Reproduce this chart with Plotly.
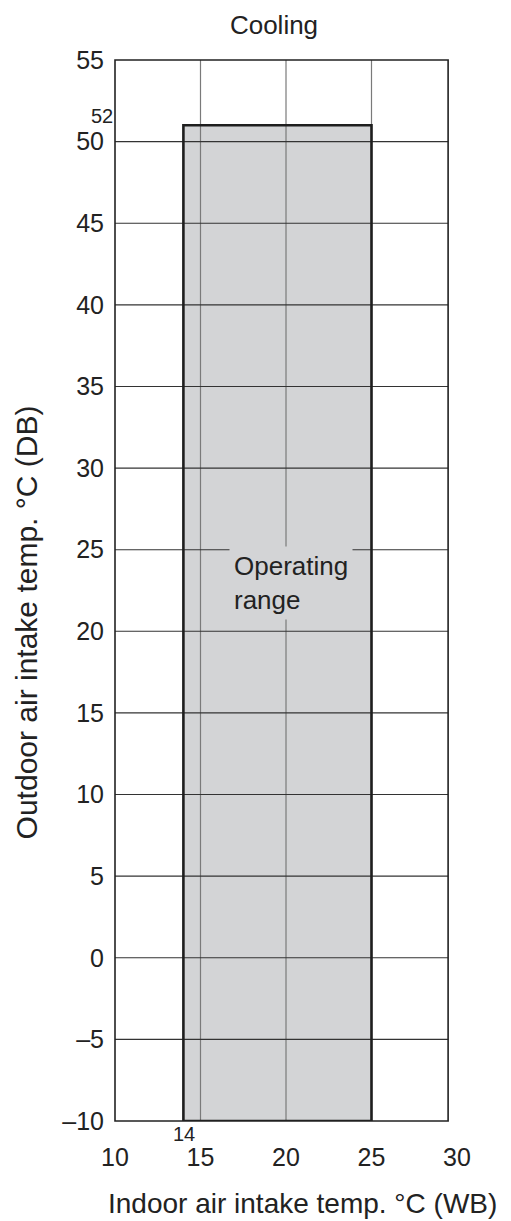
import plotly.graph_objects as go

# ---- data ----
x_ticks = [10, 15, 20, 25, 30]
y_ticks = [-10, -5, 0, 5, 10, 15, 20, 25, 30, 35, 40, 45, 50, 55]
range_x = [14, 25]          # indoor WB limits of operating range
range_y = [-10, 51]         # outdoor DB limits (as drawn)
top_label = "52"
left_label = "14"
title_text = "Cooling"
x_title = "Indoor air intake temp. °C (WB)"
y_title = "Outdoor air intake temp. °C (DB)"
region_label = "Operating<br>range"

# ---- layout constants (page has an 8px body offset) ----
W, H = 503, 1213
ML, MT, PW, PH = 107, 52, 342, 1061
MR = W - ML - PW
MB = H - MT - PH
FRAME_R = 0.974            # right edge of drawn frame (paper fraction)
FONT = "Liberation Sans, Arial, sans-serif"
FS = 26

xmin, xmax = x_ticks[0], x_ticks[-1]
ymin, ymax = y_ticks[0], y_ticks[-1]
frame_xr = xmin + FRAME_R * (xmax - xmin)

fig = go.Figure()

# operating range fill
fig.add_trace(go.Scatter(
    x=[range_x[0], range_x[1], range_x[1], range_x[0], range_x[0]],
    y=[range_y[0], range_y[0], range_y[1], range_y[1], range_y[0]],
    mode="lines", fill="toself", fillcolor="#d3d4d6",
    line=dict(width=0), hoverinfo="skip", showlegend=False))

# vertical grid lines
for xv in x_ticks[1:-1]:
    fig.add_trace(go.Scatter(x=[xv, xv], y=[ymin, ymax], mode="lines",
                             line=dict(color="#7a7a7a", width=1.2),
                             hoverinfo="skip", showlegend=False))
# horizontal grid lines
for yv in y_ticks[1:-1]:
    fig.add_trace(go.Scatter(x=[xmin, frame_xr], y=[yv, yv], mode="lines",
                             line=dict(color="#333333", width=1.1),
                             hoverinfo="skip", showlegend=False))

# operating range border
fig.add_trace(go.Scatter(
    x=[range_x[0], range_x[1], range_x[1], range_x[0], range_x[0]],
    y=[range_y[0], range_y[0], range_y[1], range_y[1], range_y[0]],
    mode="lines", line=dict(color="#1e1e1e", width=2.6),
    hoverinfo="skip", showlegend=False))

# frame
fig.add_shape(type="rect", xref="paper", yref="paper", x0=0, x1=FRAME_R, y0=0, y1=1,
              line=dict(color="#222222", width=1.6), layer="above")

fig.add_annotation(x=(range_x[0] + range_x[1]) / 2 + 0.8,
                   y=range_y[0] + 0.54 * (range_y[1] - range_y[0]),
                   text=region_label, showarrow=False, align="left",
                   font=dict(family=FONT, size=FS, color="#222"),
                   bgcolor="#d3d4d6", borderpad=4)
fig.add_annotation(x=xmin, y=range_y[1], xref="x", yref="y", text=top_label,
                   showarrow=False, xanchor="right", yanchor="bottom", xshift=0, yshift=-4,
                   font=dict(family=FONT, size=20, color="#222"))
fig.add_annotation(x=range_x[0], y=ymin, xref="x", yref="y", text=left_label,
                   showarrow=False, xanchor="center", yanchor="top", yshift=0, xshift=1,
                   font=dict(family=FONT, size=20, color="#222"))
fig.add_annotation(x=-0.26, y=0.47, xref="paper", yref="paper", text=y_title,
                   showarrow=False, textangle=-90, xanchor="center", yanchor="middle",
                   font=dict(family=FONT, size=30, color="#222"))
fig.add_annotation(x=0.547, y=-0.0773, xref="paper", yref="paper", text=x_title,
                   showarrow=False, xanchor="center", yanchor="middle",
                   font=dict(family=FONT, size=28, color="#222"))

fig.update_layout(
    width=W, height=H,
    margin=dict(l=ML, r=MR, t=MT, b=MB, autoexpand=False),
    paper_bgcolor="white", plot_bgcolor="white",
    font=dict(family=FONT, size=25, color="#222"),
    title=dict(text=title_text, x=266 / W, xanchor="center",
               y=1 - 17 / H, yanchor="middle", font=dict(family=FONT, size=FS, color="#222")),
    showlegend=False,
    xaxis=dict(range=[xmin, xmax], tickvals=x_ticks, ticktext=[str(v) for v in x_ticks],
               showgrid=False, zeroline=False, showline=False, ticks="",
               ticklabelstandoff=19, automargin=False),
    yaxis=dict(range=[ymin, ymax], tickvals=y_ticks,
               ticktext=[("–" + str(-v)) if v < 0 else str(v) for v in y_ticks],
               showgrid=False, zeroline=False, showline=False, ticks="",
               ticklabelstandoff=10, automargin=False),
)

fig.write_html("out.html")
